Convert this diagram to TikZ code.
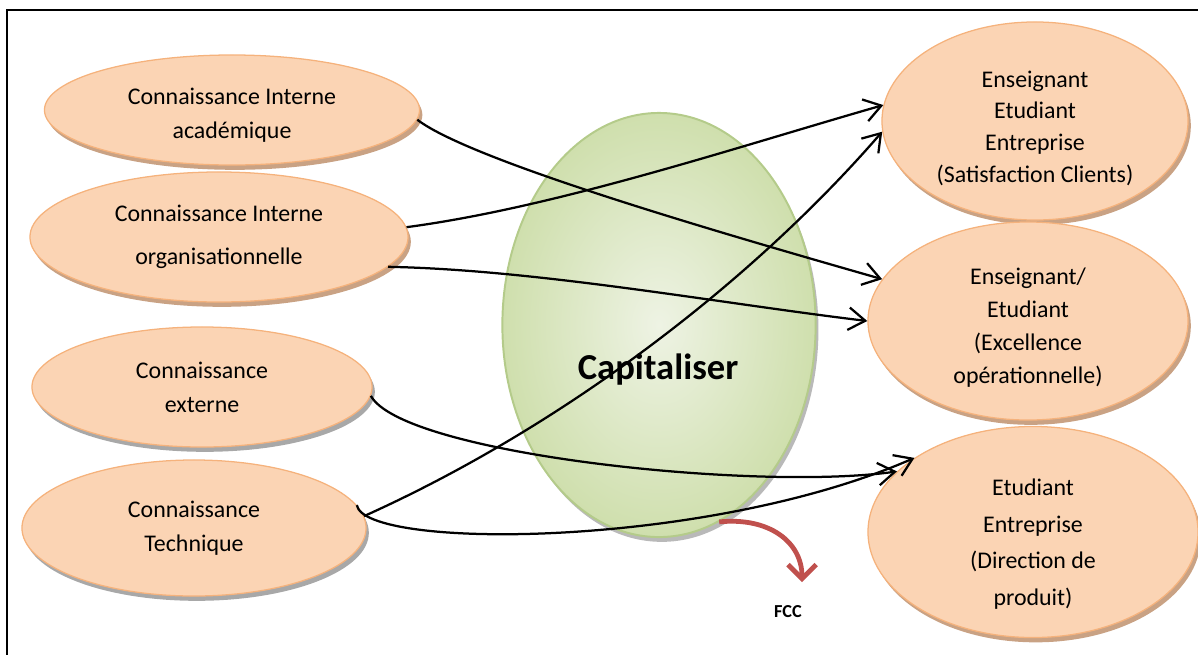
\documentclass[tikz,border=0pt]{standalone}
\usepackage{fontspec}
\setmainfont{Carlito}
\usepackage{xcolor}
\usetikzlibrary{shapes.geometric, arrows.meta, shadows, calc}

\definecolor{peach}{HTML}{FBD4B4}
\definecolor{peachedge}{HTML}{F5B27C}
\definecolor{peachshade}{HTML}{C9A284}
\definecolor{grayshade}{HTML}{A8A8A8}
\definecolor{capin}{HTML}{EEF3E4}
\definecolor{capout}{HTML}{CFDFAD}
\definecolor{capedge}{HTML}{B4CB8A}
\definecolor{fccred}{HTML}{C0504D}

\begin{document}
\begin{tikzpicture}[x=0.025cm, y=-0.025cm,
    know/.style={ellipse, draw=peachedge, line width=0.9pt, fill=peach, align=center, inner sep=0pt, font=\fontsize{17}{24}\selectfont},
    knowtxt/.style={align=center, inner sep=0pt, font=\fontsize{17}{#1}\selectfont},
    brownshade/.style={drop shadow={shadow xshift=0.07cm, shadow yshift=-0.12cm, fill=peachshade, opacity=1}},
    grayshade/.style={drop shadow={shadow xshift=0.07cm, shadow yshift=-0.12cm, fill=grayshade, opacity=1}},
    capblob/.style={ellipse, draw=capedge, line width=1.4pt, inner color=capin, outer color=capout, drop shadow={shadow xshift=0.07cm, shadow yshift=-0.12cm, fill=grayshade, opacity=0.8}},
    link/.style={-{Straight Barb[length=12pt, width=16pt]}, line width=1.6pt},
    fccarrow/.style={-{Straight Barb[length=10pt, width=20pt]}, draw=fccred, line width=3.4pt},
]
    \useasboundingbox (0,0) rectangle (1198,654);
    \draw[line width=1pt] (7,10) rectangle (1230,690);

    \node[capblob, minimum width=7.83cm, minimum height=10.6cm] (cap) at (659,325) {};
    \node[font=\fontsize{26}{30}\selectfont\bfseries] (caplbl) at (658,370) {Capitaliser};

    \node[know, brownshade, minimum width=9.375cm, minimum height=2.75cm,
          label={[knowtxt=24, yshift=-3.5pt]center:{Connaissance Interne\\académique}}] (acad) at (232,110) {};
    \node[know, brownshade, minimum width=9.45cm, minimum height=3.25cm] (orga) at (219,237) {Connaissance Interne\\[7pt]organisationnelle};
    \node[know, grayshade, minimum width=8.5cm, minimum height=3cm] (ext) at (202,387) {Connaissance\\externe};
    \node[know, grayshade, minimum width=8.6cm, minimum height=3.4cm] (tech) at (194,528) {Connaissance\\Technique};

    \node[know, brownshade, minimum width=7.65cm, minimum height=4.95cm,
          label={[knowtxt=22.5, yshift=-5pt]center:{Enseignant\\Etudiant\\Entreprise\\(Satisfaction Clients)}}] (sat) at (1035,121) {};
    \node[know, brownshade, minimum width=8cm, minimum height=4.95cm,
          label={[knowtxt=23.5, yshift=-4.5pt]center:{Enseignant/\\Etudiant\\(Excellence\\opérationnelle)}}] (exc) at (1028,321) {};
    \node[know, brownshade, minimum width=8.25cm, minimum height=5.275cm,
          label={[knowtxt=26, yshift=-8.5pt]center:{Etudiant\\Entreprise\\(Direction de\\produit)}}] (dir) at (1033,532) {};

    \draw[link] (acad.-3) .. controls +(55,42) and +(-150,-43) .. (exc.164);
    \draw[link] (orga.3) .. controls +(150,-20) and +(-150,43) .. (sat.174);
    \draw[link] (orga.-10) .. controls +(150,3) and +(-150,-18) .. (exc.west);
    \draw[link] (ext.-3) .. controls +(32,58) and +(-143,20) .. (dir.156);
    \draw[link] (tech.4) .. controls +(200,-90) and +(-130,150) .. (sat.184);
    \draw[link] (tech.8) .. controls +(8,45) and +(-208,91) .. (dir.148);

    \coordinate (fcctip) at (802,582);
    \draw[fccarrow] (cap.-73) .. controls +(50,-5) and +(0,-40) .. (fcctip);
    \node[font=\fontsize{13}{15}\selectfont\bfseries] (fcc) at (788,612) {FCC};
\end{tikzpicture}
\end{document}
